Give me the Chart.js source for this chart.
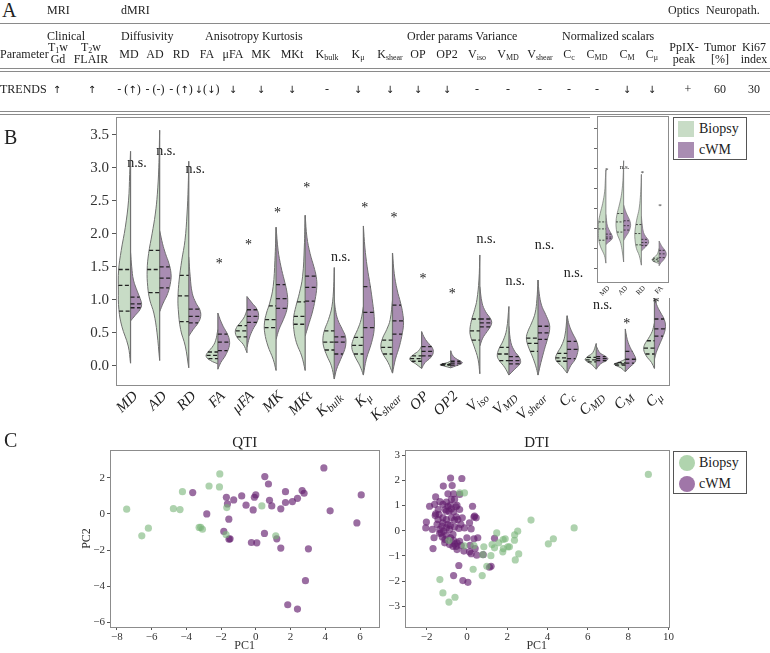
<!DOCTYPE html>
<html>
<head>
<meta charset="utf-8">
<title>dMRI parameters, biopsy vs cWM</title>
<script src="https://cdn.jsdelivr.net/npm/chart.js@4.4.1/dist/chart.umd.min.js"></script>
<style>
  html, body { margin: 0; padding: 0; background: #fff; }
  #fig { position: relative; width: 770px; height: 653px; overflow: hidden;
         font-family: "Liberation Serif", "DejaVu Serif", serif; color: #222; }
  .tx { position: absolute; font-size: 12px; line-height: 12px; white-space: nowrap; transform: translate(-50%, -50%);
        will-change: transform; }
  .tx.left { transform: translate(0, -50%); }
  .tx sub { font-size: 8px; vertical-align: -2px; line-height: 0; }
  .tx .ar { font-family: "DejaVu Sans", "DejaVu Serif", sans-serif; font-size: 10px; color: #111; }
  .panel { position: absolute; font-size: 20px; line-height: 20px; }
  .rule { position: absolute; left: 0; width: 770px; height: 0; border-top: 1px solid #8a8a8a; }
  canvas { position: absolute; }
  .legend { position: absolute; border: 1px solid #555; background: #fff; box-sizing: border-box; }
  .legend .sw { position: absolute; }
  .legend .lb { position: absolute; font-size: 14px; line-height: 14px; transform: translateY(-50%); }
</style>
</head>
<body>
<div id="fig">
  <canvas id="violins" width="680" height="330" style="left:0;top:100px"></canvas>
  <canvas id="inset" width="85" height="188" style="left:590px;top:110px"></canvas>
  <canvas id="qti" width="306" height="225" style="left:80px;top:428px"></canvas>
  <canvas id="dti" width="300" height="225" style="left:375px;top:428px"></canvas>
</div>
<script>
// ---- panel B data ----
const categories = ['MD','AD','RD','FA','μFA','MK','MKt','Kbulk','Kμ','Kshear','OP','OP2','Viso','VMD','Vshear','Cc','CMD','CM','Cμ'];
const labelMain = ['MD','AD','RD','FA','μFA','MK','MKt','K','K','K','OP','OP2','V','V','V','C','C','C','C'];
const labelSub  = ['','','','','','','','bulk','μ','shear','','','iso','MD','shear','c','MD','M','μ'];

// quartile lines [q1, median, q3]
const biopsyQuartiles = [
  [0.83,1.22,1.46],[1.11,1.46,1.75],[0.67,1.06,1.37],[0.11,0.16,0.21],[0.44,0.53,0.61],
  [0.58,0.70,0.91],[0.63,0.75,0.97],[0.24,0.36,0.53],[0.18,0.31,0.43],[0.18,0.28,0.39],
  [0.07,0.11,0.15],[0.01,0.02,0.03],[0.39,0.53,0.71],[0.08,0.18,0.28],[0.22,0.34,0.42],
  [0.07,0.12,0.19],[0.06,0.09,0.13],[0.01,0.03,0.05],[0.18,0.27,0.38]
];
const cwmQuartiles = [
  [0.88,0.94,1.04],[1.18,1.33,1.50],[0.65,0.75,0.86],[0.23,0.36,0.48],[0.66,0.75,0.85],
  [0.87,1.02,1.23],[0.98,1.19,1.36],[0.18,0.36,0.44],[0.58,0.81,1.20],[0.48,0.68,0.92],
  [0.15,0.22,0.29],[0.01,0.04,0.07],[0.59,0.65,0.71],[0.03,0.08,0.14],[0.40,0.50,0.60],
  [0.11,0.25,0.37],[0.08,0.11,0.14],[0.04,0.10,0.22],[0.45,0.56,0.71]
];

// violin outlines: [value, half width] from bottom tip to top tip
const biopsyProfiles = [
  [[0.04,0],[0.3,0.08],[0.6,0.3],[0.85,0.4],[1.15,0.42],[1.45,0.41],[1.75,0.32],[2.1,0.18],[2.5,0.07],[2.9,0.03],[3.25,0]],
  [[0.08,0],[0.5,0.09],[0.8,0.2],[1.0,0.34],[1.2,0.41],[1.45,0.43],[1.7,0.38],[2.0,0.26],[2.3,0.15],[2.6,0.08],[3.0,0.03],[3.57,0]],
  [[-0.03,0],[0.3,0.12],[0.55,0.28],[0.85,0.36],[1.05,0.37],[1.3,0.33],[1.6,0.24],[1.9,0.13],[2.3,0.06],[2.7,0.02],[3.1,0]],
  [[0.03,0],[0.08,0.25],[0.14,0.40],[0.2,0.36],[0.28,0.2],[0.38,0.08],[0.55,0]],
  [[0.2,0],[0.32,0.12],[0.42,0.32],[0.5,0.40],[0.58,0.36],[0.66,0.22],[0.75,0.08],[0.85,0]],
  [[-0.07,0],[0.1,0.1],[0.3,0.28],[0.5,0.39],[0.65,0.40],[0.8,0.33],[0.95,0.22],[1.2,0.1],[1.6,0.04],[2.1,0]],
  [[-0.07,0],[0.15,0.12],[0.35,0.3],[0.55,0.39],[0.72,0.40],[0.9,0.32],[1.1,0.2],[1.35,0.09],[1.8,0.03],[2.28,0]],
  [[-0.2,0],[0.0,0.1],[0.15,0.25],[0.3,0.37],[0.42,0.39],[0.55,0.33],[0.7,0.2],[0.9,0.08],[1.2,0.02],[1.49,0]],
  [[-0.14,0],[0.0,0.12],[0.15,0.3],[0.28,0.40],[0.4,0.35],[0.55,0.2],[0.7,0.08],[0.9,0]],
  [[-0.11,0],[0.05,0.15],[0.2,0.35],[0.3,0.40],[0.42,0.34],[0.55,0.2],[0.7,0.08],[1.0,0]],
  [[-0.04,0],[0.03,0.2],[0.08,0.38],[0.12,0.40],[0.17,0.28],[0.23,0.1],[0.3,0]],
  [[-0.03,0],[0.0,0.25],[0.015,0.37],[0.03,0.3],[0.05,0.1],[0.08,0]],
  [[-0.12,0],[0.1,0.06],[0.3,0.2],[0.45,0.32],[0.55,0.34],[0.7,0.28],[0.85,0.18],[1.0,0.1],[1.3,0.03],[1.68,0]],
  [[-0.14,0],[-0.02,0.15],[0.08,0.33],[0.15,0.40],[0.25,0.35],[0.38,0.2],[0.55,0.08],[0.9,0]],
  [[-0.14,0],[0.0,0.08],[0.15,0.2],[0.3,0.34],[0.42,0.40],[0.52,0.35],[0.65,0.22],[0.8,0.1],[1.0,0.04],[1.3,0]],
  [[-0.11,0],[0.0,0.2],[0.07,0.36],[0.12,0.40],[0.2,0.33],[0.3,0.2],[0.45,0.08],[0.76,0]],
  [[-0.05,0],[0.02,0.15],[0.07,0.33],[0.1,0.38],[0.14,0.3],[0.2,0.12],[0.34,0]],
  [[-0.09,0],[-0.03,0.15],[0.01,0.35],[0.03,0.38],[0.06,0.2],[0.1,0]],
  [[-0.04,0],[0.05,0.1],[0.15,0.28],[0.25,0.37],[0.33,0.33],[0.42,0.2],[0.52,0.08],[0.65,0]]
];
const cwmProfiles = [
  [[0.68,0],[0.76,0.15],[0.85,0.32],[0.93,0.38],[1.02,0.33],[1.12,0.24],[1.3,0.1],[1.5,0.04],[1.72,0]],
  [[0.82,0],[0.95,0.12],[1.1,0.28],[1.28,0.38],[1.4,0.39],[1.55,0.32],[1.7,0.2],[1.85,0.1],[2.05,0]],
  [[0.45,0],[0.55,0.15],[0.65,0.32],[0.75,0.41],[0.85,0.38],[0.95,0.25],[1.1,0.12],[1.35,0.05],[1.65,0]],
  [[-0.05,0],[0.05,0.1],[0.15,0.25],[0.28,0.38],[0.38,0.40],[0.48,0.33],[0.6,0.18],[0.7,0.08],[0.8,0]],
  [[0.28,0],[0.42,0.08],[0.55,0.2],[0.66,0.34],[0.76,0.40],[0.86,0.34],[0.95,0.18],[1.05,0]],
  [[0.4,0],[0.55,0.1],[0.7,0.25],[0.85,0.37],[1.0,0.40],[1.15,0.36],[1.3,0.28],[1.5,0.17],[1.75,0.07],[2.1,0]],
  [[0.45,0],[0.6,0.1],[0.8,0.24],[1.0,0.34],[1.2,0.40],[1.35,0.38],[1.5,0.3],[1.7,0.17],[1.95,0.06],[2.28,0]],
  [[-0.2,0],[-0.05,0.08],[0.1,0.22],[0.25,0.36],[0.35,0.40],[0.45,0.38],[0.55,0.28],[0.7,0.12],[0.85,0.04],[1.0,0]],
  [[-0.14,0],[0.1,0.1],[0.35,0.28],[0.55,0.37],[0.75,0.37],[0.95,0.32],[1.2,0.24],[1.5,0.13],[1.8,0.05],[2.12,0]],
  [[-0.11,0],[0.1,0.1],[0.3,0.24],[0.5,0.34],[0.65,0.38],[0.8,0.35],[0.95,0.28],[1.15,0.16],[1.4,0.06],[1.71,0]],
  [[-0.04,0],[0.05,0.12],[0.12,0.3],[0.2,0.40],[0.28,0.36],[0.36,0.2],[0.44,0.08],[0.52,0]],
  [[-0.03,0],[0.0,0.18],[0.03,0.36],[0.05,0.40],[0.08,0.3],[0.12,0.15],[0.17,0.05],[0.23,0]],
  [[0.3,0],[0.42,0.1],[0.52,0.25],[0.6,0.37],[0.66,0.41],[0.72,0.36],[0.82,0.2],[0.95,0.08],[1.2,0]],
  [[-0.14,0],[-0.05,0.2],[0.03,0.38],[0.08,0.40],[0.14,0.34],[0.22,0.2],[0.35,0.07],[0.6,0]],
  [[-0.14,0],[0.05,0.1],[0.25,0.22],[0.4,0.32],[0.55,0.40],[0.65,0.38],[0.78,0.26],[0.92,0.12],[1.1,0.04],[1.3,0]],
  [[-0.11,0],[0.0,0.12],[0.1,0.28],[0.2,0.36],[0.28,0.38],[0.38,0.32],[0.5,0.18],[0.62,0.07],[0.76,0]],
  [[-0.05,0],[0.03,0.15],[0.08,0.35],[0.11,0.40],[0.15,0.3],[0.2,0.12],[0.3,0]],
  [[-0.09,0],[-0.02,0.15],[0.05,0.32],[0.1,0.36],[0.17,0.3],[0.25,0.2],[0.35,0.1],[0.45,0.04],[0.56,0]],
  [[0.1,0],[0.2,0.06],[0.35,0.2],[0.5,0.34],[0.6,0.38],[0.7,0.34],[0.8,0.22],[0.9,0.1],[1.03,0]]
];

const signifText = ['n.s.','n.s.','n.s.','*','*','*','*','n.s.','*','*','*','*','n.s.','n.s.','n.s.','n.s.','n.s.','*','*'];
const signifY    = [3.07,3.25,2.98,1.58,1.87,2.35,2.73,1.65,2.43,2.27,1.35,1.13,1.92,1.28,1.82,1.40,0.92,0.67,0.99];
const yTicksB = [0,0.5,1,1.5,2,2.5,3,3.5];

// inset (same four DTI parameters)
const insetIdx = [0,1,2,3];
const insetSignifText = ['*','n.s.','*','*'];
const insetSignifY = [3.28,3.34,3.19,2.04];
const insetTicks = [-0.14,0.55,1.24,1.93,2.62,3.31,4.00,4.69];

// ---- panel C data ----
const qtiBiopsy = [[-7.43,0.26],[-4.74,0.29],[-4.36,0.24],[-4.22,1.23],[-6.18,-0.79],[-6.56,-1.21],[-2.69,1.54],[-2.07,2.21],
  [-2.09,1.49],[-3.26,-0.75],[-3.17,-0.74],[-3.07,-0.85],[-1.67,0.35],[-1.71,-1.14],[0.35,0.44],[1.15,-1.21]];
const qtiCwm = [[-3.63,1.18],[-2.82,0.0],[-1.69,0.92],[-1.63,0.55],[-1.55,-0.29],[-1.27,0.77],[-1.84,-0.97],[-1.54,-1.40],
  [-1.48,-1.38],[-0.81,0.99],[-0.56,0.48],[-0.15,0.22],[-0.08,0.92],[0.0,1.05],[-0.25,-1.58],[0.06,-1.60],[0.52,2.06],
  [0.73,1.65],[0.79,0.75],[0.92,0.44],[0.50,-1.08],[1.21,-1.38],[1.44,0.28],[1.44,-1.89],[1.71,1.23],[1.71,0.63],
  [2.11,0.68],[2.40,0.86],[2.67,1.29],[2.78,1.14],[3.03,-1.93],[2.86,-3.69],[1.84,-5.02],[2.40,-5.26],[3.92,2.54],
  [4.28,0.17],[5.82,-0.50],[6.07,1.05]];
const dtiBiopsy = [[9.0,2.23],[5.32,0.11],[3.18,0.42],[4.04,-0.52],[4.29,-0.32],[2.52,-0.02],[2.37,-0.17],[2.36,-0.38],
  [2.57,-0.92],[2.40,-1.16],[2.11,-0.64],[2.03,-0.64],[1.90,-0.32],[1.80,-0.35],[1.81,-0.71],[1.78,-0.84],[1.58,-0.48],
  [1.48,-0.09],[1.37,-0.68],[1.25,-0.55],[1.19,-0.99],[0.84,-0.64],[0.79,-0.95],[0.99,-1.41],[0.76,-1.78],[0.31,-1.53],
  [-0.13,-0.60],[-0.36,1.50],[-0.12,1.50],[-1.34,-1.94],[-1.19,-2.47],[-0.59,-2.64],[-0.89,-2.83],[-0.89,-0.39],[0.35,-0.59]];
const dtiCwm = [[-0.81,2.09],[-0.25,2.07],[-1.17,1.77],[-0.73,1.79],[-1.55,1.34],[-0.94,1.46],[-0.66,1.46],[-0.36,1.44],
  [-1.34,1.15],[-1.60,1.04],[-1.19,1.04],[-1.02,1.13],[-0.81,1.01],[-0.61,1.24],[-0.49,1.00],[0.28,0.97],[-1.42,0.84],
  [-1.07,0.84],[-0.89,0.77],[-0.77,0.87],[-0.66,0.75],[-0.36,0.84],[-0.54,0.95],[-1.55,0.67],[-0.23,0.51],[0.38,0.58],
  [0.46,0.51],[0.35,0.54],[-2.01,0.34],[-2.04,0.11],[-1.43,0.44],[-1.19,0.51],[-1.02,0.44],[-0.77,0.51],[-0.61,0.42],
  [-0.45,0.44],[-1.48,0.25],[-1.24,0.18],[-1.02,0.11],[-0.94,0.25],[-0.82,0.21],[-0.61,0.15],[-0.40,0.09],[-0.30,0.25],
  [-0.12,0.11],[0.13,0.31],[0.21,0.07],[-1.71,0.05],[-1.35,0.05],[-1.27,-0.09],[-1.15,-0.02],[-1.02,-0.19],[-0.69,-0.15],
  [-0.86,0.05],[-1.35,-0.11],[-1.22,-0.25],[-1.09,-0.35],[-0.81,-0.28],[-0.66,-0.38],[-0.36,-0.42],[0.0,-0.28],[0.35,-0.32],
  [0.54,-0.28],[-1.10,-0.48],[-0.86,-0.55],[-0.61,-0.52],[-0.49,-0.48],[-0.53,-0.62],[-0.69,-0.62],[0.16,-0.58],[0.41,-0.71],
  [-1.68,-0.71],[-0.15,-0.81],[0.13,-0.84],[0.21,-0.91],[0.49,-0.97],[0.81,-0.95],[1.37,-0.30],[1.20,-1.41],[1.12,-1.45],
  [-0.40,-1.38],[-0.66,-1.78],[-0.20,-1.98],[0.05,-2.05],[-0.49,-0.75],[-0.28,-0.59],[-0.77,1.24],[-0.94,0.97],[-1.85,0.97],
  [-1.57,0.60],[-1.38,0.64],[-0.53,0.55],[-1.19,0.31],[-1.02,0.77],[-1.63,-0.28]];
const qtiXTicks = [-8,-6,-4,-2,0,2,4,6];
const qtiYTicks = [-6,-4,-2,0,2];
const dtiXTicks = [-2,0,2,4,6,8,10];
const dtiYTicks = [-3,-2,-1,0,1,2,3];

// ---- panel A table ----
const tableCols = ['MD','AD','RD','FA','μFA','MK','MKt','K<sub>bulk</sub>','K<sub>μ</sub>','K<sub>shear</sub>','OP','OP2',
  'V<sub>iso</sub>','V<sub>MD</sub>','V<sub>shear</sub>','C<sub>c</sub>','C<sub>MD</sub>','C<sub>M</sub>','C<sub>μ</sub>'];
const tableTrends = ['- (↑)','- (-)','- (↑)','↓(↓)','↓','↓','↓','-','↓','↓','↓','↓','-','-','-','-','-','↓','↓'];
const colX = [129,155,181,207,233,261,292,327,358,390,418,447,477,508,540,569,597,627,652];

const FONT = '"Liberation Serif", "DejaVu Serif", serif';
const violinGreen = '#c8dcc6';
const violinPurple = '#a98db2';
const edgeGray = '#707070';
const dotGreen = 'rgba(120,180,120,0.6)';
const dotPurple = 'rgba(100,30,110,0.65)';

Chart.defaults.font.family = FONT;
Chart.defaults.color = '#333';

const fig = document.getElementById('fig');
// arrows are not in Liberation Serif, keep them out of the emoji fallback
const arrows = s => s.replace(/[↑↓]/g, a => '<span class="ar">' + a + '&#xFE0E;</span>');
const addText = (html, x, y, cls) => {
  const d = document.createElement('div');
  d.className = 'tx' + (cls ? ' ' + cls : '');
  d.innerHTML = arrows(html);
  d.style.left = x + 'px';
  d.style.top = y + 'px';
  fig.appendChild(d);
};
const addRule = (y) => {
  const d = document.createElement('div');
  d.className = 'rule';
  d.style.top = y + 'px';
  fig.appendChild(d);
};
const addPanel = (t, x, y) => {
  const d = document.createElement('div');
  d.className = 'panel';
  d.textContent = t;
  d.style.left = x + 'px';
  d.style.top = y + 'px';
  fig.appendChild(d);
};

addPanel('A', 2, 0);
addPanel('B', 4, 127);
addPanel('C', 4, 430);
addText('MRI', 47, 10, 'left');
addText('dMRI', 121, 10, 'left');
addText('Optics', 668, 10, 'left');
addText('Neuropath.', 706, 10, 'left');
addRule(23);
addText('Clinical', 47, 36, 'left');
addText('Diffusivity', 121, 36, 'left');
addText('Anisotropy Kurtosis', 205, 36, 'left');
addText('Order params Variance', 407, 36, 'left');
addText('Normalized scalars', 562, 36, 'left');
addText('Parameter', 0, 54, 'left');
addText('T<sub>1</sub>w', 58, 47);
addText('Gd', 58, 59);
addText('T<sub>2</sub>w', 91, 47);
addText('FLAIR', 91, 59);
tableCols.forEach((c, i) => addText(c, colX[i], 54));
addText('PpIX-', 684, 47);
addText('peak', 684, 59);
addText('Tumor', 720, 47);
addText('[%]', 720, 59);
addText('Ki67', 754, 47);
addText('index', 754, 59);
addRule(68); addRule(71);
addText('TRENDS', 0, 89, 'left');
addText('↑', 57, 89);
addText('↑', 92, 89);
tableTrends.forEach((t, i) => addText(t, colX[i], 89));
addText('+', 688, 89);
addText('60', 720, 89);
addText('30', 754, 89);
addRule(111); addRule(114);

// legends
const addLegend = (top, round) => {
  const box = document.createElement('div');
  box.className = 'legend';
  box.style.cssText = 'left:673px;top:' + top + 'px;width:74px;height:43px';
  [['Biopsy', round ? 'rgb(176,212,174)' : violinGreen, 11], ['cWM', round ? 'rgb(160,118,168)' : violinPurple, 32]].forEach(([lab, col, cy]) => {
    const sw = document.createElement('div');
    sw.className = 'sw';
    sw.style.cssText = 'left:' + (round ? 5 : 4) + 'px;top:' + (cy - 8) + 'px;width:16px;height:16px;background:' + col +
      (round ? ';border-radius:50%' : '');
    box.appendChild(sw);
    const lb = document.createElement('div');
    lb.className = 'lb';
    lb.textContent = lab;
    lb.style.cssText = 'left:25px;top:' + cy + 'px';
    box.appendChild(lb);
  });
  fig.appendChild(box);
};
addLegend(117, false);
addLegend(451, true);

// ---- helpers ----
const widthAt = (profile, v) => {
  for (let i = 1; i < profile.length; i++) {
    const [y0, w0] = profile[i - 1], [y1, w1] = profile[i];
    if (v >= y0 && v <= y1) return w0 + (w1 - w0) * (v - y0) / (y1 - y0);
  }
  return 0;
};
const lineDs = (pts, color, width, dash, order) => ({
  data: pts, showLine: true, pointRadius: 0, borderColor: color, borderWidth: width,
  borderDash: dash, fill: false, order: order
});
const halfDs = (profile, pos, side, color, w) => ({
  data: profile.map(([y, hw]) => ({x: pos + side * hw, y: y})),
  showLine: true, pointRadius: 0, tension: 0.4, fill: 'shape',
  backgroundColor: color, borderColor: edgeGray, borderWidth: w, order: 3
});

const violinDatasets = (indices, o) => {
  const ds = [];
  indices.forEach((k, pos) => {
    const bp = biopsyProfiles[k], cp = cwmProfiles[k];
    ds.push(halfDs(bp, pos, -1, violinGreen, o.edgeW));
    ds.push(halfDs(cp, pos, 1, violinPurple, o.edgeW));
    const lo = Math.min(bp[0][0], cp[0][0]);
    const hi = Math.max(bp[bp.length - 1][0], cp[cp.length - 1][0]);
    ds.push(lineDs([{x: pos, y: lo}, {x: pos, y: hi}], edgeGray, o.centerW, [], 2));
    biopsyQuartiles[k].forEach(q => ds.push(lineDs([{x: pos - widthAt(bp, q), y: q}, {x: pos, y: q}], '#222', o.qW, o.dash, 1)));
    cwmQuartiles[k].forEach(q => ds.push(lineDs([{x: pos, y: q}, {x: pos + widthAt(cp, q), y: q}], '#222', o.qW, o.dash, 1)));
  });
  return ds;
};

const boxPlugin = {
  id: 'box',
  beforeDraw(chart, args, o) {
    if (!o.background) return;
    const {ctx} = chart;
    ctx.save();
    ctx.fillStyle = o.background;
    ctx.fillRect(0, 0, chart.width, chart.height);
    ctx.restore();
  },
  afterDraw(chart, args, o) {
    const {ctx, chartArea: a} = chart;
    ctx.save();
    ctx.strokeStyle = o.color || '#888';
    ctx.lineWidth = 1;
    ctx.strokeRect(Math.round(a.left) + 0.5, Math.round(a.top) + 0.5, Math.round(a.right - a.left), Math.round(a.bottom - a.top));
    ctx.restore();
  }
};

const signifPlugin = {
  id: 'signif',
  afterDatasetsDraw(chart, args, o) {
    const {ctx, scales: {x, y}} = chart;
    ctx.save();
    ctx.fillStyle = '#222';
    ctx.textAlign = 'center';
    ctx.textBaseline = 'middle';
    o.texts.forEach((t, i) => {
      const star = t === '*';
      ctx.font = o.size + 'px ' + FONT;
      ctx.fillText(t, x.getPixelForValue(i + (star ? 0.05 : o.shift)), y.getPixelForValue(o.ys[i]) + (star ? o.size * 0.2 : 0));
    });
    ctx.restore();
  }
};

const xLabelPlugin = {
  id: 'xLabels',
  afterDraw(chart, args, o) {
    const {ctx, scales: {x}, chartArea} = chart;
    ctx.save();
    ctx.fillStyle = '#222';
    ctx.textBaseline = 'middle';
    o.main.forEach((m, i) => {
      const sub = o.sub ? o.sub[i] : '';
      ctx.save();
      ctx.translate(x.getPixelForValue(i) + o.dx, chartArea.bottom + o.dy);
      ctx.rotate(-Math.PI / 4);
      ctx.font = o.style + ' ' + o.size + 'px ' + FONT;
      const w1 = ctx.measureText(m).width;
      ctx.font = o.style + ' ' + o.subSize + 'px ' + FONT;
      const w2 = sub ? ctx.measureText(sub).width : 0;
      ctx.font = o.style + ' ' + o.size + 'px ' + FONT;
      ctx.fillText(m, -(w1 + w2), 0);
      if (sub) {
        ctx.font = o.style + ' ' + o.subSize + 'px ' + FONT;
        ctx.fillText(sub, -w2, o.size * 0.28);
      }
      ctx.restore();
    });
    ctx.restore();
  }
};

// ---- panel B main chart ----
new Chart(document.getElementById('violins'), {
  type: 'scatter',
  data: { datasets: violinDatasets(categories.map((c, i) => i), {edgeW: 1, centerW: 1.2, qW: 1.3, dash: [4, 2.5]}) },
  options: {
    responsive: false, animation: false, events: [],
    layout: { padding: {top: 17, right: 11, left: 0, bottom: 0} },
    plugins: {
      legend: {display: false}, tooltip: {enabled: false},
      box: {color: '#8c8c8c'},
      signif: {texts: signifText, ys: signifY, size: 14, shift: 0.22},
      xLabels: {main: labelMain, sub: labelSub, size: 15, subSize: 11, style: 'italic', dx: 5, dy: 9}
    },
    scales: {
      x: { type: 'linear', min: -0.5, max: 18.5, ticks: {display: false}, grid: {display: false}, border: {display: false},
           afterFit: ax => { ax.height = 45; } },
      y: { min: -0.29, max: 3.77, border: {display: false},
           afterBuildTicks: ax => { ax.ticks = yTicksB.map(v => ({value: v})); },
           afterFit: ax => { ax.width = 116; },
           ticks: {font: {size: 15}, color: '#333', padding: 3, callback: v => v.toFixed(1)},
           grid: {drawOnChartArea: false, tickLength: 4, color: '#555'} }
    }
  },
  plugins: [boxPlugin, signifPlugin, xLabelPlugin]
});

// ---- inset ----
new Chart(document.getElementById('inset'), {
  type: 'scatter',
  data: { datasets: violinDatasets(insetIdx, {edgeW: 0.7, centerW: 0.8, qW: 0.8, dash: [2, 1.5]}) },
  options: {
    responsive: false, animation: false, events: [],
    layout: { padding: {top: 6, right: 7, left: 0, bottom: 0} },
    plugins: {
      legend: {display: false}, tooltip: {enabled: false},
      box: {color: '#8c8c8c', background: '#fff'},
      signif: {texts: insetSignifText, ys: insetSignifY, size: 7, shift: 0.05},
      xLabels: {main: insetIdx.map(k => categories[k]), size: 7, subSize: 5, style: '', dx: 3, dy: 5}
    },
    scales: {
      x: { type: 'linear', min: -0.5, max: 3.5, ticks: {display: false}, grid: {display: false}, border: {display: false},
           afterFit: ax => { ax.height = 16; } },
      y: { min: -0.61, max: 5.11, border: {display: false},
           afterBuildTicks: ax => { ax.ticks = insetTicks.map(v => ({value: v})); },
           afterFit: ax => { ax.width = 7; },
           ticks: {display: false},
           grid: {drawOnChartArea: false, tickLength: 3, color: '#666'} }
    }
  },
  plugins: [boxPlugin, signifPlugin, xLabelPlugin]
});

// ---- panel C scatter plots ----
const titlePlugin = {
  id: 'panelTitle',
  afterDraw(chart, args, o) {
    const {ctx, chartArea: a} = chart;
    ctx.save();
    ctx.font = '15px ' + FONT;
    ctx.fillStyle = '#222';
    ctx.textAlign = 'center';
    ctx.textBaseline = 'alphabetic';
    ctx.fillText(o.text, (a.left + a.right) / 2, a.top - 3);
    ctx.restore();
  }
};
const fmt = v => (v < 0 ? '−' + Math.abs(v) : String(v));

const scatterConfig = (title, bio, cwm, xr, yr, xt, yt, yTitle, rightPad) => ({
  type: 'scatter',
  data: { datasets: [
    {label: 'Biopsy', data: bio.map(([x, y]) => ({x, y})), backgroundColor: dotGreen, borderWidth: 0, pointRadius: 3.6, order: 0},
    {label: 'cWM', data: cwm.map(([x, y]) => ({x, y})), backgroundColor: dotPurple, borderWidth: 0, pointRadius: 3.6, order: 1}
  ]},
  options: {
    responsive: false, animation: false, events: [],
    layout: { padding: {top: 22, right: rightPad, left: 0, bottom: 0} },
    plugins: { legend: {display: false}, tooltip: {enabled: false}, box: {color: '#8c8c8c'}, panelTitle: {text: title} },
    scales: {
      x: { type: 'linear', min: xr[0], max: xr[1], border: {display: false},
           afterBuildTicks: ax => { ax.ticks = xt.map(v => ({value: v})); },
           afterFit: ax => { ax.height = 26; },
           ticks: {font: {size: 11}, color: '#333', padding: 1, maxRotation: 0, autoSkip: false, callback: fmt},
           grid: {drawOnChartArea: false, tickLength: 3, color: '#555'},
           title: {display: true, text: 'PC1', font: {size: 12}, color: '#333', padding: 0} },
      y: { min: yr[0], max: yr[1], border: {display: false},
           afterBuildTicks: ax => { ax.ticks = yt.map(v => ({value: v})); },
           afterFit: ax => { ax.width = 30; },
           ticks: {font: {size: 11}, color: '#333', padding: 2, autoSkip: false, callback: fmt},
           grid: {drawOnChartArea: false, tickLength: 3, color: '#555'},
           title: {display: !!yTitle, text: yTitle, font: {size: 12}, color: '#333', padding: 0} }
    }
  },
  plugins: [boxPlugin, titlePlugin]
});

new Chart(document.getElementById('qti'), scatterConfig('QTI', qtiBiopsy, qtiCwm, [-8.39, 7.11], [-6.25, 3.53], qtiXTicks, qtiYTicks, 'PC2', 6.7));
new Chart(document.getElementById('dti'), scatterConfig('DTI', dtiBiopsy, dtiCwm, [-3.07, 10], [-3.82, 3.2], dtiXTicks, dtiYTicks, '', 5.7));
</script>
</body>
</html>
